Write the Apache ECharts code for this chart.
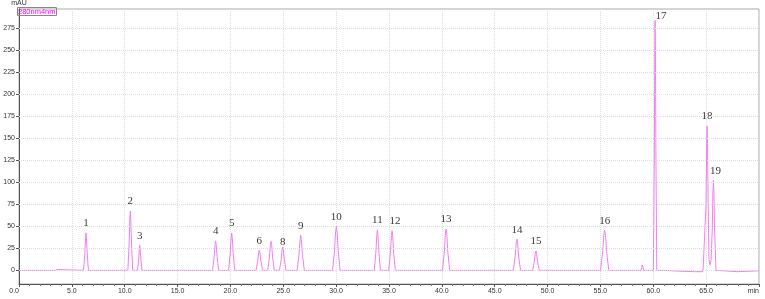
<!DOCTYPE html>
<html>
<head>
<meta charset="utf-8">
<script src="https://cdn.jsdelivr.net/npm/echarts@6/dist/echarts.min.js"></script>
<style>
  html, body { margin: 0; padding: 0; background: #fff; }
  #chromChart { width: 765px; height: 299px; }
</style>
</head>
<body>
<div id="chromChart"></div>
<script>
// 色谱图 280nm
const chromChart = echarts.init(document.getElementById('chromChart'));

const yTicks = [0, 25, 50, 75, 100, 125, 150, 175, 200, 225, 250, 275];

// 峰编号、保留时间、峰高 (峰7无标注)
const peakNo = ['1', '2', '3', '4', '5', '6', '8', '9', '10', '11', '12', '13', '14', '15', '16', '17', '18', '19'];
const peakTime = [6.34, 10.53, 11.42, 18.60, 20.12, 22.73, 24.95, 26.65, 30.02, 33.90, 35.29, 40.40, 47.10, 48.90, 55.40, 60.17, 65.09, 65.69];
const peakHeight = [42.5, 67.5, 28.5, 33.5, 42.5, 23, 26.5, 40, 50, 46, 45, 47, 35.5, 22, 45.5, 284, 164, 102.5];

// 色谱曲线 [min, mAU]
const trace = [
  [0, 0], [3.40, 0], [3.52, 1.5], [3.56, 2], [3.62, 1], [3.72, 0],
  [6.10, 0], [6.23, 19.5], [6.30, 37.5], [6.34, 42.5], [6.38, 37.5], [6.45, 19.5], [6.57, 0],
  [10.30, 0], [10.42, 31], [10.49, 59.5], [10.53, 67.5], [10.57, 59.5], [10.64, 31], [10.76, 0],
  [11.21, 0], [11.32, 13], [11.38, 25], [11.42, 28.5], [11.46, 25], [11.52, 13], [11.63, 0],
  [18.31, 0], [18.46, 15.5], [18.55, 29.5], [18.60, 33.5], [18.65, 29.5], [18.74, 15.5], [18.89, 0],
  [19.83, 0], [19.98, 19.5], [20.07, 37.5], [20.12, 42.5], [20.17, 37.5], [20.26, 19.5], [20.41, 0],
  [22.42, 0], [22.58, 10.5], [22.67, 20], [22.73, 23], [22.79, 20], [22.88, 10.5], [23.04, 0],
  [23.53, 0], [23.69, 15], [23.78, 29], [23.84, 33], [23.90, 29], [23.99, 15], [24.15, 0],
  [24.64, 0], [24.80, 12], [24.89, 23.5], [24.95, 26.5], [25.01, 23.5], [25.10, 12], [25.26, 0],
  [26.31, 0], [26.49, 18.5], [26.59, 35], [26.65, 40], [26.71, 35], [26.81, 18.5], [26.99, 0],
  [29.66, 0], [29.85, 23], [29.95, 44], [30.02, 50], [30.09, 44], [30.19, 23], [30.38, 0],
  [33.61, 0], [33.76, 21], [33.85, 40.5], [33.90, 46], [33.95, 40.5], [34.04, 21], [34.19, 0],
  [34.98, 0], [35.14, 20.5], [35.23, 39.5], [35.29, 45], [35.35, 39.5], [35.44, 20.5], [35.60, 0],
  [40.06, 0], [40.24, 21.5], [40.33, 41.5], [40.40, 47], [40.47, 41.5], [40.56, 21.5], [40.74, 0],
  [46.76, 0], [46.94, 16.5], [47.03, 31], [47.10, 35.5], [47.17, 31], [47.26, 16.5], [47.44, 0],
  [48.59, 0], [48.75, 10], [48.84, 19.5], [48.90, 22], [48.96, 19.5], [49.05, 10], [49.21, 0],
  [55.01, 0], [55.21, 21], [55.32, 40], [55.40, 45.5], [55.48, 40], [55.59, 21], [55.79, 0],
  [58.84, 0], [58.91, 3.2], [58.95, 6.2], [58.97, 7], [58.99, 6.2], [59.03, 3.2], [59.10, 0],
  [59.50, 0], [59.60, 1], [59.70, 0],
  [60.01, 0], [60.10, 131], [60.14, 250], [60.17, 284], [60.20, 250], [60.25, 131], [60.33, 0],
  [61.0, 0], [62.5, -1], [64.0, -1.5], [64.70, -1.5],
  [64.88, -1], [64.99, 75], [65.05, 144], [65.09, 164], [65.13, 144], [65.19, 75], [65.27, 12], [65.37, 6],
  [65.47, 12], [65.58, 47], [65.645, 90], [65.69, 102.5], [65.735, 90], [65.80, 47], [65.93, 0],
  [66.1, -1.5], [68.0, -1.5], [70.0, -0.5]
];

// 个别标注位置微调
const labelNudge = { '8': [0, 5], '12': [3, 0], '17': [6, 5], '19': [2, 0] };

const peakMarks = peakNo.map((no, i) => ({
  value: [peakTime[i], peakHeight[i]],
  name: no,
  label: labelNudge[no] ? { offset: labelNudge[no] } : undefined
}));

const axisFont = { fontSize: 7, color: '#333', fontFamily: 'Liberation Sans' };

const option = {
  animation: false,
  title: {
    text: '280nm4nm',
    left: 17,
    top: 8,
    padding: [0, 1],
    borderColor: '#888',
    borderWidth: 1,
    textStyle: { color: '#ff00ff', fontSize: 7.5, fontWeight: 'normal', fontFamily: 'Liberation Sans', lineHeight: 7 }
  },
  grid: {
    left: 19,
    right: 6,
    top: 9,
    bottom: 15,
    show: true,
    borderColor: '#aaa',
    borderWidth: 1
  },
  xAxis: {
    type: 'value',
    min: 0,
    max: 70,
    interval: 5,
    axisLine: { show: true, onZero: false, lineStyle: { color: '#555' } },
    axisTick: { show: true, length: 3, lineStyle: { color: '#555' } },
    minorTick: { show: true, splitNumber: 5, length: 2, lineStyle: { color: '#777' } },
    axisLabel: {
      ...axisFont,
      margin: 4,
      alignMinLabel: 'right',
      alignMaxLabel: 'right',
      formatter: v => (v === 70 ? 'min' : v.toFixed(1))
    },
    splitLine: { show: true, lineStyle: { color: '#ddd', type: 'dotted' } }
  },
  yAxis: {
    type: 'value',
    min: -15.5,
    max: 297,
    name: 'mAU',
    nameGap: 2,
    nameTextStyle: { ...axisFont, align: 'center' },
    axisLine: { show: true, lineStyle: { color: '#555' } },
    axisTick: { show: true, length: 3, customValues: yTicks, lineStyle: { color: '#555' } },
    axisLabel: { ...axisFont, margin: 4, customValues: yTicks },
    splitLine: { show: false }
  },
  series: [
    {
      type: 'line',
      data: trace,
      showSymbol: false,
      symbol: 'none',
      silent: true,
      lineStyle: { color: '#f27ff2', width: 1 },
      markLine: {
        silent: true,
        symbol: 'none',
        label: { show: false },
        lineStyle: { color: '#ddd', type: 'dotted', width: 1 },
        data: yTicks.map(v => ({ yAxis: v }))
      },
      z: 3
    },
    {
      type: 'scatter',
      data: peakMarks,
      symbolSize: 0,
      silent: true,
      label: {
        show: true,
        position: 'top',
        distance: 4,
        formatter: p => p.name,
        fontFamily: 'Liberation Serif',
        fontSize: 11,
        color: '#000'
      },
      z: 4
    }
  ]
};
chromChart.setOption(option);
</script>
</body>
</html>
